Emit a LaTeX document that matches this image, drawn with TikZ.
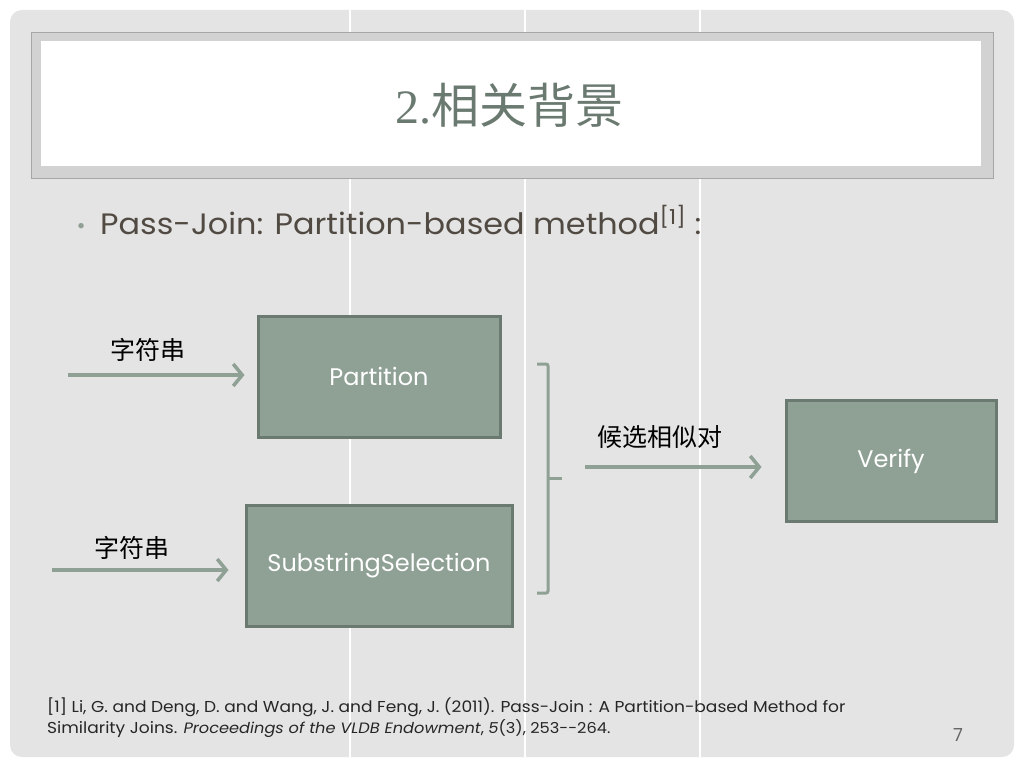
\documentclass[tikz,border=0pt]{standalone}
\usepackage{fontspec}
\setmainfont{Poppins}
\newfontfamily\gothic[FakeStretch=1.08]{Poppins}
\newfontfamily\cjk{Noto Sans CJK SC}
\newfontfamily\numfont{Liberation Serif}
\usetikzlibrary{arrows.meta, positioning}
\usepackage{xcolor}
\definecolor{sage}{HTML}{8FA095}
\definecolor{sagedark}{HTML}{6B7A70}
\definecolor{slide}{HTML}{E4E4E4}
\definecolor{band}{HTML}{D2D2D2}
\definecolor{ink}{HTML}{514A43}

\begin{document}
\begin{tikzpicture}[x=1pt, y=-1pt, >=latex]
			\tikzstyle{box} = [draw=sagedark, line width=3pt, fill=sage, rectangle, minimum height=121pt, text=white, font=\fontsize{24}{28}\selectfont]
			\tikzstyle{arrow} = [draw=sage, line width=3.5pt, -{Straight Barb[length=9pt, width=22pt, line width=3.5pt]}]
			\tikzstyle{cjktag} = [font=\cjk\fontsize{25}{29}\selectfont, text=black, inner sep=0pt]
			
			% slide
			\useasboundingbox (0,0) rectangle (1024,768);
			\fill[white] (0,0) rectangle (1024,768);
			\fill[slide, rounded corners=12pt] (10,10) rectangle (1014,757);
			\foreach \x in {350, 525, 700}
				\draw[white, line width=1.2pt] (\x,10) -- (\x,757);
			\filldraw[fill=band, draw=gray!70] (31,32) rectangle (993,178);
			\fill[white] (41,41) rectangle (981,166);
			
			\node[text=sagedark, font=\cjk\fontsize{48}{52}\selectfont] at (509,105) (title) {{\numfont 2.}相关背景};
			\node[anchor=base west, text=sage, font=\fontsize{22}{26}\selectfont] at (73,233) (dot) {•};
			\node[anchor=base west, text=ink, font=\gothic\fontsize{29.5}{34}\selectfont, inner sep=0pt] at (100,234) (head) {Pass-Join: Partition-based method\textsuperscript{[1]} :};
			
			\node[box, minimum width=242pt] 	at (379,376.5)	(partition)	{Partition};
			\node[box, minimum width=266pt] 	at (379,565.5)	(substr)	{SubstringSelection};
			\node[box, minimum width=210pt] 	at (891,461)	(verify)	{Verify};
			
			\coordinate (in1) at (68,375);
			\coordinate (in2) at (52,570);
			\coordinate (cand) at (585,467);
			
			\node[cjktag] at (148,350) (tag1) {字符串};
			\node[cjktag] at (132,548) (tag2) {字符串};
			\node[cjktag] at (660,437) (tag3) {候选相似对};
			
			\draw [arrow, shorten >=12pt] 	(in1) -- (in1 -| partition.west);
			\draw [arrow, shorten >=16pt] 	(in2) -- (in2 -| substr.west);
			\draw [arrow, shorten >=23pt] 	(cand) -- (cand -| verify.west);
			
			% bracket
			\draw [sage, line width=3pt, rounded corners=2pt] (537,364) -- (548,364) -- (548,593) -- (537,593);
			\draw [sage, line width=3pt] (548,478) -- (562,478) coordinate (brace);
			
			\node[anchor=base west, align=left, text=black!85, font=\gothic\fontsize{15.8}{21}\selectfont, inner sep=0pt] at (47,733) (ref) {[1] Li, G. and Deng, D. and Wang, J. and Feng, J. (2011). Pass-Join : A Partition-based Method for\\Similarity Joins. {\fontsize{15}{21}\selectfont\textit{Proceedings of the VLDB Endowment}, \textit{5}(3), 253-{}-264.}};
			\node[anchor=base, text=black!60, font=\fontsize{18}{20}\selectfont] at (958,741) (page) {7};
		\end{tikzpicture}
\end{document}
